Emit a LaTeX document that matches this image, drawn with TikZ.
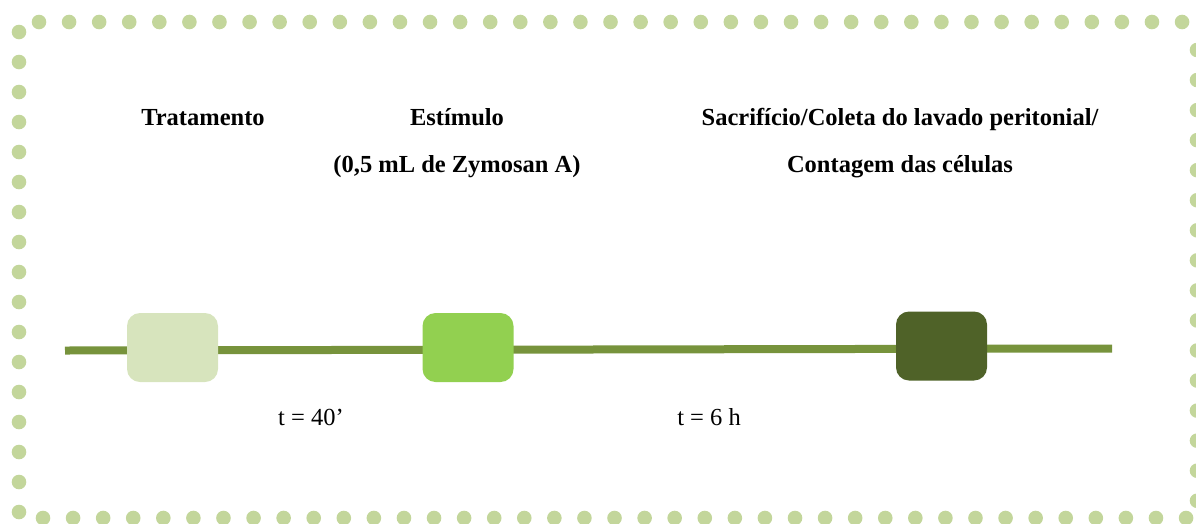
\documentclass[tikz,border=0pt]{standalone}
\usepackage{fontspec}
\setmainfont{Liberation Serif}
\definecolor{dotgreen}{HTML}{C3D69B}
\definecolor{linegreen}{HTML}{77933C}
\definecolor{boxlight}{HTML}{D7E4BD}
\definecolor{boxmid}{HTML}{92D050}
\definecolor{boxdark}{HTML}{4F6228}
\begin{document}
\begin{tikzpicture}[x=1pt,y=-1pt,
  dot/.style={fill=dotgreen},
  stepbox/.style={rectangle,rounded corners=13pt,minimum width=91pt,minimum height=69pt,inner sep=0pt},
  title/.style={anchor=base,inner sep=0pt,font=\fontsize{24.5}{28}\selectfont\bfseries},
  timelabel/.style={anchor=base,inner sep=0pt,font=\fontsize{24.5}{28}\selectfont},
  timeline/.style={draw=linegreen,line width=8pt}]
\useasboundingbox (0,0) rectangle (1196,523);
% dotted frame
\foreach \i in {0,...,38} {
  \fill[dot] (39+30.08*\i,22) circle (7.3);
  \fill[dot] (43+30.08*\i,518) circle (7.3);
}
\foreach \i in {0,...,16} \fill[dot] (19,32+30*\i) circle (7.3);
\foreach \i in {0,...,15} \fill[dot] (1197,50+30.05*\i) circle (7.3);
% time line
\coordinate (ls) at (65,350.5);
\coordinate (le) at (1112,348.5);
\draw[timeline] (ls) -- (le);
% steps
\node[stepbox,fill=boxlight] (b1) at (172.5,347.5) {};
\node[stepbox,fill=boxmid]   (b2) at (468,347.5) {};
\node[stepbox,fill=boxdark]  (b3) at (941.5,346) {};
% labels
\node[title] (l1) at (203,125) {Tratamento};
\node[title] (l2) at (457,125) {Estímulo};
\node[title] (l3) at (457,172) {(0,5 mL de Zymosan A)};
\node[title] (l4) at (900,125) {Sacrifício/Coleta do lavado peritonial/};
\node[title] (l5) at (900,172) {Contagem das células};
\node[timelabel] (t1) at (311,425) {t = 40’};
\node[timelabel] (t2) at (709,425) {t = 6 h};
\end{tikzpicture}
\end{document}
